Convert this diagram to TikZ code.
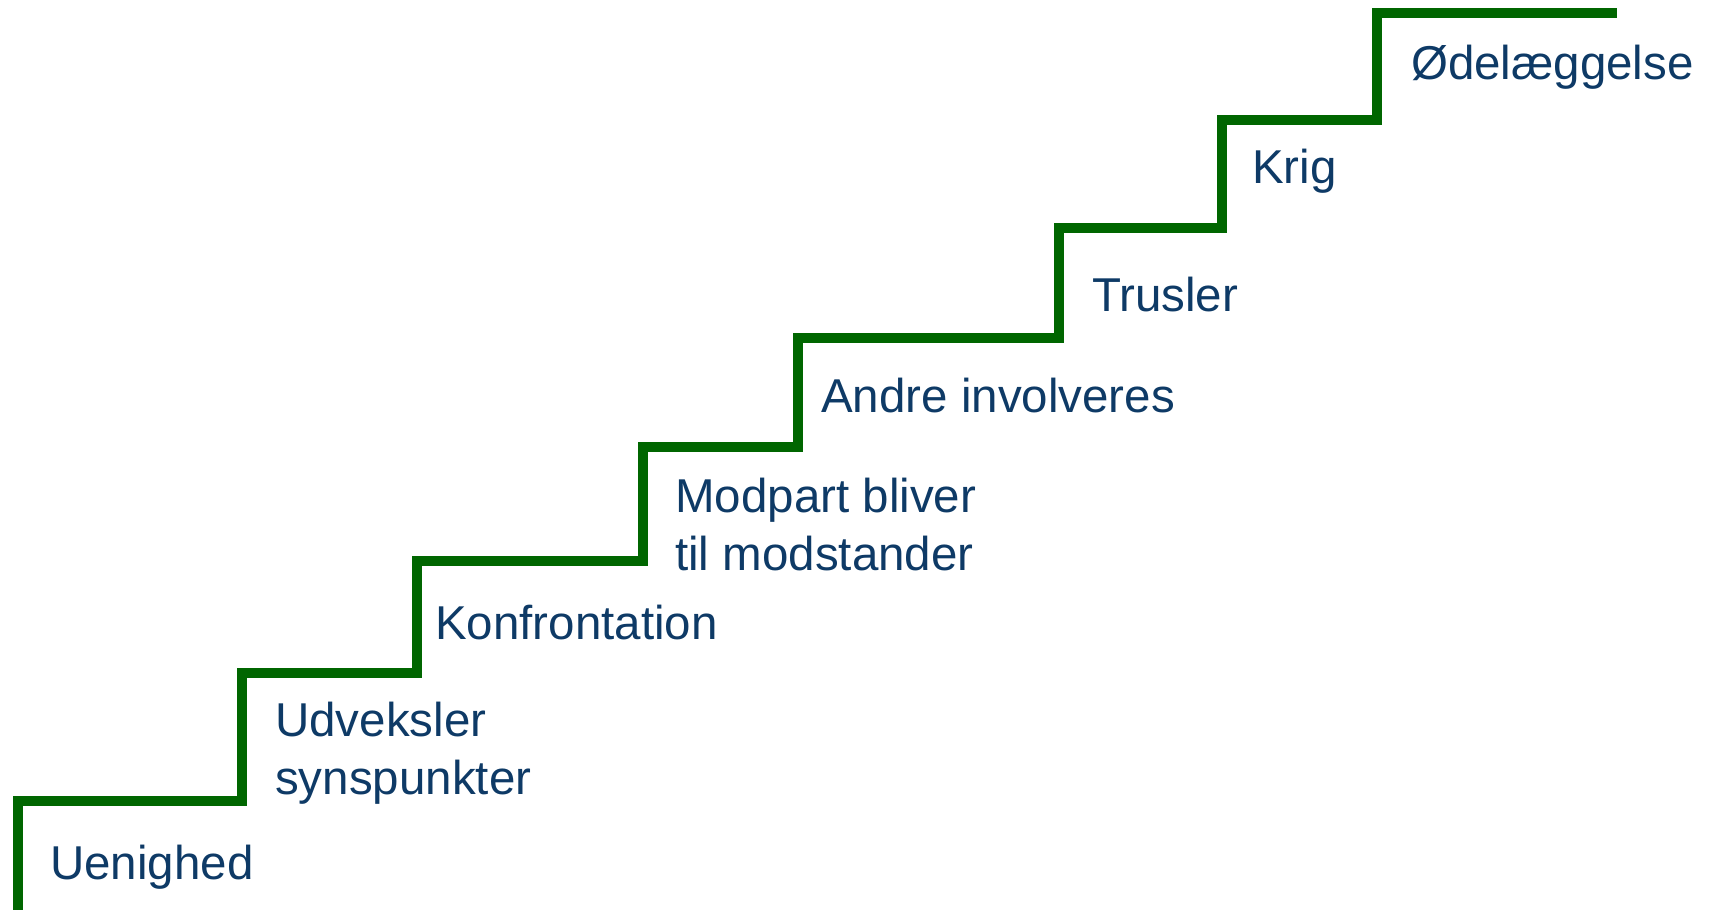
\documentclass[tikz,border=0pt]{standalone}
\usepackage{fontspec}
\setmainfont{Liberation Sans}
\definecolor{stairgreen}{HTML}{006600}
\definecolor{labelblue}{HTML}{0E3A66}
\begin{document}
\begin{tikzpicture}[x=1pt,y=1pt,
  stair/.style={draw=stairgreen,line width=10pt,line join=miter,line cap=butt},
  lbl/.style={anchor=base west,inner sep=0pt,text=labelblue,align=left,
    font=\fontsize{47.5}{58}\selectfont}]
\useasboundingbox (0,0) rectangle (1709,910);
\draw[stair] (17.5,0) -- (17.5,109) -- (242,109) -- (242,237) -- (417,237)
  -- (417,349) -- (643,349) -- (643,463) -- (798,463) -- (798,572)
  -- (1059,572) -- (1059,682) -- (1222,682) -- (1222,790) -- (1377,790)
  -- (1377,897) -- (1617,897);
\node[lbl] (s1) at (50,30) {Uenighed};
\node[lbl] (s2) at (275,115) {Udveksler\\synspunkter};
\node[lbl] (s3) at (435,270) {Konfrontation};
\node[lbl] (s4) at (675,339) {Modpart bliver\\til modstander};
\node[lbl] (s5) at (821,497) {Andre involveres};
\node[lbl] (s6) at (1092,598) {Trusler};
\node[lbl] (s7) at (1252,726) {Krig};
\node[lbl] (s8) at (1411,830) {Ødelæggelse};
\end{tikzpicture}
\end{document}
